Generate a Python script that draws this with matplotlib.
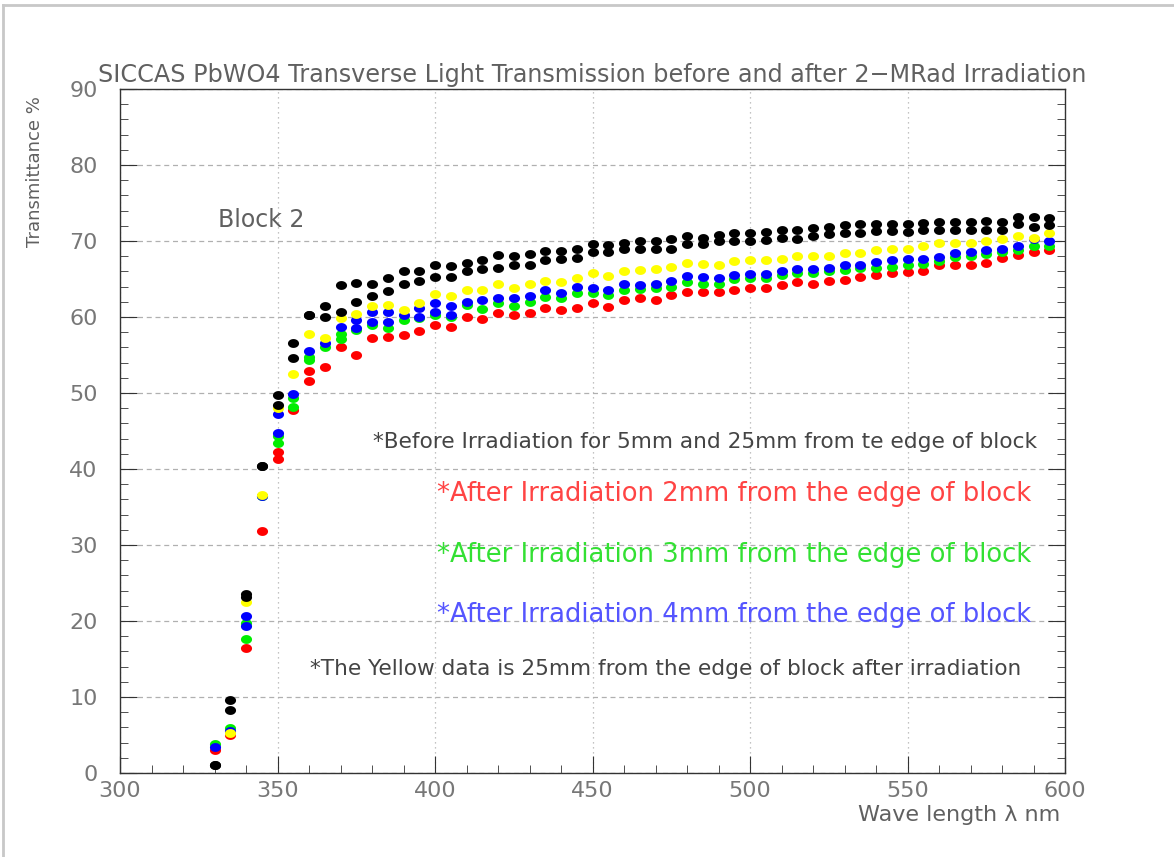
import numpy as np
import matplotlib
matplotlib.use('Agg')
import matplotlib.pyplot as plt
from matplotlib.path import Path
from matplotlib.lines import Line2D

# wavelengths (nm)
wl = list(range(330, 600, 5))

# before irradiation, two positions (black)
black_a = [1.0, 9.6, 23.6, 40.4, 49.7, 56.6, 60.3, 61.4, 64.2, 64.5,
           64.4, 65.1, 66.1, 66.1, 66.8, 66.7, 67.1, 67.5, 68.1, 68.0,
           68.3, 68.7, 68.7, 69.0, 69.6, 69.5, 69.8, 70.0, 70.0, 70.2,
           70.6, 70.4, 70.8, 71.0, 71.1, 71.2, 71.4, 71.4, 71.7, 71.9,
           72.1, 72.2, 72.2, 72.2, 72.2, 72.4, 72.5, 72.5, 72.5, 72.6,
           72.5, 73.1, 73.1, 73.0]
black_b = [1.0, 8.3, 23.2, 40.4, 48.4, 54.6, 60.2, 60.0, 60.7, 62.0,
           62.7, 63.4, 64.3, 64.8, 65.3, 65.3, 66.0, 66.3, 66.5, 66.8,
           66.8, 67.5, 67.6, 67.8, 68.5, 68.5, 68.9, 68.9, 68.9, 69.0,
           69.6, 69.6, 70.0, 70.0, 70.0, 70.1, 70.4, 70.3, 70.7, 70.9,
           71.1, 71.1, 71.3, 71.3, 71.2, 71.4, 71.5, 71.5, 71.5, 71.5,
           71.5, 72.2, 71.9, 72.1]
# after irradiation, 2mm (red)
red = [3.0, 5.0, 16.4, 31.8, 42.3, 47.8, 52.9, 53.4, 56.0, 55.0,
       57.3, 57.4, 57.6, 58.1, 59.0, 58.7, 60.0, 59.7, 60.5, 60.2,
       60.5, 61.2, 60.9, 61.2, 61.8, 61.3, 62.2, 62.5, 62.3, 62.9,
       63.3, 63.3, 63.3, 63.6, 63.8, 63.8, 64.2, 64.6, 64.4, 64.7,
       64.9, 65.2, 65.5, 65.8, 65.9, 66.1, 66.8, 66.8, 66.9, 67.1,
       67.7, 68.2, 68.6, 68.8]
# after irradiation, 3mm (green)
green = [3.8, 5.9, 17.6, 36.4, 44.3, 49.3, 54.8, 56.1, 57.8, 58.3,
         58.9, 58.6, 59.6, 59.9, 60.2, 60.0, 61.6, 61.1, 61.8, 61.4,
         62.0, 62.6, 62.5, 63.1, 63.1, 62.9, 63.6, 63.7, 63.8, 64.0,
         64.6, 64.4, 64.3, 65.0, 65.1, 65.1, 65.5, 65.8, 65.8, 66.0,
         66.2, 66.4, 66.5, 66.6, 66.8, 67.0, 67.4, 67.9, 68.0, 68.3,
         68.6, 68.8, 69.3, 69.4]
# after irradiation, 4mm (blue)
blue = [3.4, 5.5, 20.6, 36.5, 47.3, 49.9, 55.5, 56.6, 58.7, 59.6,
        60.6, 60.6, 60.3, 61.2, 61.8, 61.4, 62.0, 62.3, 62.5, 62.5,
        62.8, 63.5, 63.1, 63.9, 63.8, 63.6, 64.3, 64.2, 64.4, 64.8,
        65.4, 65.2, 65.1, 65.5, 65.7, 65.6, 66.1, 66.3, 66.3, 66.5,
        66.8, 66.9, 67.2, 67.5, 67.6, 67.6, 67.9, 68.4, 68.5, 68.8,
        69.0, 69.3, 70.2, 70.0]
# 25mm after irradiation (yellow), no point at 330
yellow = [np.nan, 5.3, 22.5, 36.6, 48.0, 52.5, 57.8, 57.3, 59.9, 60.4,
          61.4, 61.6, 60.9, 61.8, 63.0, 62.7, 63.6, 63.6, 64.4, 63.8,
          64.3, 64.7, 64.6, 65.1, 65.8, 65.4, 66.0, 66.2, 66.3, 66.6,
          67.1, 67.0, 66.8, 67.4, 67.5, 67.5, 67.6, 68.0, 68.0, 68.0,
          68.4, 68.4, 68.8, 68.9, 68.9, 69.3, 69.7, 69.8, 69.8, 70.0,
          70.3, 70.6, 70.4, 71.0]

# repeated measurements seen in the picture
red_x2 = [350, 360]
red_y2 = [41.3, 51.6]
green_x2 = [340, 350, 355, 360, 370]
green_y2 = [19.8, 43.4, 48.2, 54.3, 57.1]
blue_x2 = [340, 350, 375, 380, 385, 395, 400, 405]
blue_y2 = [19.3, 44.8, 58.6, 59.4, 59.4, 60.0, 60.7, 60.2]

# slightly wide dot, like the stretched original
t = np.linspace(0, 2 * np.pi, 40)
dot = Path(np.column_stack([1.25 * np.cos(t), np.sin(t)]), closed=True)

fig = plt.figure(figsize=(11.74, 8.57), dpi=100)
ax = fig.add_axes([120 / 1174, 1 - 773 / 857, 945 / 1174, 684 / 857])

ms = 8
def dots(x, y, c):
    ax.plot(x, y, linestyle='none', marker=dot, markersize=ms, color=c,
            markeredgewidth=0, clip_on=False)

dots(wl, red, '#ff0000')
dots(red_x2, red_y2, '#ff0000')
dots(wl, green, '#00ee00')
dots(green_x2, green_y2, '#00ee00')
dots(wl, blue, '#0000ff')
dots(blue_x2, blue_y2, '#0000ff')
dots(wl, yellow, '#ffff00')
dots(wl, black_a, '#000000')
dots(wl, black_b, '#000000')

ax.set_xlim(300, 600)
ax.set_ylim(0, 90)
ax.set_xticks(range(300, 601, 50))
ax.set_yticks(range(0, 91, 10))
ax.set_xticks(range(300, 601, 10), minor=True)
ax.set_yticks(range(0, 91, 2), minor=True)
ax.grid(True, which='major', axis='x', color='#b0b0b0', linestyle=(0, (1, 3)), linewidth=0.9)
ax.grid(True, which='major', axis='y', color='#b0b0b0', linestyle=(0, (4, 3)), linewidth=0.9)
ax.tick_params(which='both', direction='in', top=False, right=True,
               labelsize=16, labelcolor='#777777', color='#333333')
ax.tick_params(which='major', length=12, width=0.8)
ax.tick_params(which='minor', length=6, width=0.6)
ax.tick_params(axis='x', pad=6)
ax.tick_params(axis='y', pad=16)
for s in ax.spines.values():
    s.set_linewidth(1.0)
    s.set_color('#333333')

gray = '#606060'
fig.text(592 / 1174, 1 - 75 / 857, 'SICCAS PbWO4 Transverse Light Transmission before and after 2\u2212MRad Irradiation',
         ha='center', va='center', fontsize=17.2, color=gray)
fig.text(1060 / 1174, 1 - 815 / 857, 'Wave length \u03bb nm', ha='right', va='center',
         fontsize=16, color=gray)
fig.text(35 / 1174, 1 - 172 / 857, 'Transmittance %', rotation=90, ha='center', va='center',
         fontsize=13, color=gray)

ax.text(331, 72.8, 'Block 2', fontsize=17, color=gray, ha='left', va='center')

ax.text(380.3, 43.6, '*Before Irradiation for 5mm and 25mm from te edge of block',
        fontsize=15.6, color='#444444', ha='left', va='center')
ax.text(400.6, 36.7, '*After Irradiation 2mm from the edge of block',
        fontsize=18.6, color='#ff4444', ha='left', va='center')
ax.text(400.6, 28.7, '*After Irradiation 3mm from the edge of block',
        fontsize=18.6, color='#33e033', ha='left', va='center')
ax.text(400.6, 20.8, '*After Irradiation 4mm from the edge of block',
        fontsize=18.6, color='#5555ff', ha='left', va='center')
ax.text(360.3, 13.7, '*The Yellow data is 25mm from the edge of block after irradiation',
        fontsize=15.55, color='#444444', ha='left', va='center')

# outer frame of the screenshot
fig.add_artist(Line2D([3 / 1174, 1], [1 - 5 / 857, 1 - 5 / 857], color='#c8c8c8', linewidth=2))
fig.add_artist(Line2D([3 / 1174, 3 / 1174], [0, 1 - 5 / 857], color='#c8c8c8', linewidth=2))

fig.savefig('out.png', dpi=100)
